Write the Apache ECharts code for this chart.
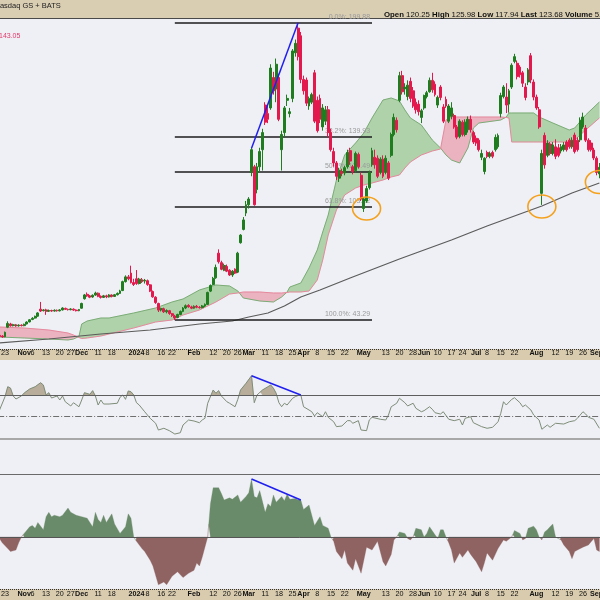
<!DOCTYPE html>
<html><head><meta charset="utf-8"><title>Chart</title>
<script src="https://cdn.jsdelivr.net/npm/echarts/dist/echarts.min.js"></script>
<style>html,body{margin:0;padding:0;background:#eff0f5;overflow:hidden}#chart{width:600px;height:600px}</style>
</head><body><div id="chart"></div>
<script>
// ---------------- data ----------------
const holidays = ['2023-11-23','2023-12-25','2024-01-01','2024-01-15','2024-02-19','2024-03-29','2024-05-27','2024-06-19','2024-07-04','2024-09-02'];
const firstDay = '2023-10-19';
const dayCount = 220;

const opens = [
35.2,34.8,34.5,39.5,41.2,40.3,40.8,40.2,40.6,40.3,
41.2,42.3,43.6,44.3,45.3,49.0,48.2,48.6,47.9,48.3,
48.0,48.4,48.1,48.6,49.4,48.9,48.7,49.0,48.5,48.2,
49.5,54.5,56.8,56.0,55.4,56.4,57.4,55.8,55.2,56.0,
55.5,56.4,55.7,56.6,57.3,58.8,63.5,66.0,68.0,63.0,
65.0,62.5,64.5,63.8,64.0,61.8,58.3,55.3,52.0,48.6,
49.2,47.6,48.2,46.6,45.4,44.6,46.2,47.8,49.6,51.0,
50.2,49.5,50.5,50.0,49.8,50.6,51.5,58.5,62.0,65.5,
78.5,73.5,69.5,71.5,69.5,67.0,70.0,68.5,84.0,91.0,
99.6,104.0,121.0,124.0,112.0,124.0,133.0,156.5,152.0,155.0,
171,165,171,133,142,159,152,160,184,197,
193,170,169.7,156,158,173.5,159,160,145,148,
154,142,132,126,118,121.5,120.7,124,132.5,124,
122,130.5,119.5,102,106,113,125,129,128.5,121,
128,121,126,130,141,148.5,159,172,165,161,
169,164,158,157,150,155,161,163.5,169.5,167.5,
156.5,166,155.5,159.5,148,150.5,151,145,140,147.5,
141,143.5,149,142,139,138,129,121.5,131.5,129.5,
131.5,133,134.5,152,161,160.7,157,166,179.5,178.5,
176.5,173.5,166,168.7,182.5,168.6,160.7,154,110,140.5,
130,136,131,134.5,134,132.3,133,137,138,134.5,
140.7,138,138.2,145,144.4,138,136.5,132.8,128.5,120.25];
const closes = [
34.6,34.4,36.8,41.5,40.2,40.8,40.1,40.6,40.3,41.0,
42.2,43.4,44.2,45.2,47.0,48.0,48.6,47.9,48.3,48.0,
48.4,48.1,48.6,49.6,48.9,48.7,49.1,48.5,48.2,48.8,
52.0,56.5,56.0,55.3,56.3,57.5,55.8,55.2,56.0,55.5,
56.4,55.7,56.6,57.3,58.6,63.5,66.0,65.0,63.0,62.0,
62.5,64.8,63.5,64.2,62.0,58.5,55.5,52.5,48.5,49.3,
47.6,48.3,46.7,45.6,44.4,46.2,47.8,49.6,50.8,50.2,
49.5,50.5,50.0,49.8,50.7,51.5,57.8,61.5,65.2,71.0,
74.0,70.0,72.0,69.0,67.0,69.0,68.0,78.5,88.0,96.0,
104.0,107.0,133.0,104.0,124.0,132.0,142.0,147.5,149.0,176.0,
164,178,149,141,155,160,153,185,189,182,
170,164,157.5,160,162,148,143,149,155,154,
142,133,126,119,122,120.5,123.5,131.5,127,121.5,
131,124,107,107,112.5,121,132.5,125,119,128,
119,128.5,118,141,150,143.5,172,163.5,166,167,
160,156,154,153,153.5,161.5,163,169.5,164.5,162,
160.5,160.5,148,156,156,155,145,139.6,148,141,
147.5,149,143.5,137,136.5,133,131,128.5,129.5,131,
129.5,139.5,140.5,161.5,166,156.5,164,177.5,182,171.5,
172.5,168,160.5,175,169.7,160.7,155,145,131,125,
136.5,131,135.5,129.5,130,134.6,135.5,133,134.5,138,
132,133,148.5,150.2,138,133,133,128.6,121,123.68];
const lows = [
34.2,33.9,34.2,39.0,39.8,39.9,39.7,39.8,39.9,40.0,
41.0,42.0,43.2,44.0,45.0,47.5,47.8,46.0,47.5,47.6,
47.7,47.7,47.8,48.3,48.6,48.3,48.4,48.1,47.8,47.9,
49.3,54.0,55.5,54.8,55.0,56.0,55.3,54.6,54.9,54.8,
55.1,55.2,55.4,56.2,57.0,58.5,63.0,64.2,62.5,61.2,
61.8,62.0,62.8,62.5,61.3,58.0,55.0,51.8,47.5,47.8,
47.0,46.8,46.0,44.9,43.29,44.2,45.8,47.4,49.0,49.8,
49.0,49.2,49.5,49.3,49.4,50.1,51.2,58.0,61.5,65.0,
73.0,69.5,69.0,68.5,66.5,66.0,67.5,68.0,83.5,90.5,
98.0,102.0,119.0,103.5,110.0,121.0,122.0,146.0,147.0,154.0,
162,158,148,122,140,156,150,158,182,180,
168,162,156,154,157,147,142,147,143,146,
140,132,124,117,116,119,119.5,123,125,120,
121,123,106,100.2,105,112,124,123,118,120,
118,120,117,129,140,142,158,162,162,159,
158,155,152,151,147,154,160,163,163,161,
155,159,147,155,147,149,144,138.5,139,140,
140,142,142,136,135,132,127.5,120,128.5,128.5,
128.5,132,133.5,150,160,152.3,152.5,165,178.5,170,
171,166,159,167,168,159,154,144,103.9,123,
129,130,130,128,129,131,132,132,133.5,133.5,
131,132,137,144,137,132,132,127.5,119.5,117.94];
const highs = [
35.8,35.3,37.2,42.6,41.8,41.3,41.2,41.0,41.0,41.4,
42.6,43.7,44.8,45.6,47.4,52.8,49.0,49.2,48.8,48.7,
48.9,48.8,49.0,50.0,49.8,49.3,49.5,49.4,48.9,49.1,
52.4,57.0,57.8,56.5,56.8,58.2,57.8,56.2,56.5,56.6,
56.9,56.8,57.0,57.8,59.2,64.0,66.8,67.0,71.9,65.0,
69.6,65.5,65.4,64.9,64.6,62.2,58.8,55.8,52.4,49.8,
49.8,48.9,48.6,47.0,46.0,46.6,48.3,50.1,51.5,51.6,
50.8,51.0,51.2,50.6,51.2,52.0,58.2,62.0,66.0,72.5,
80.5,74.5,73.0,72.5,70.0,69.6,70.5,79.2,88.5,97.5,
106.0,108.0,134.0,125.0,126.0,134.0,144.0,158.0,156.0,178.0,
174,181,173,143,156,162,155,186,191,199.88,
195,172,171,161,163,175,161,162,157,156,
156,144,134,127,123.5,123,124.5,133,134,125,
132,131.5,121,108,114,122,134,133,130,129,
130,130,127,142,152,150,174,174.5,168,169.5,
171,166,160,159,154.5,162,164,171,173.5,169,
161.5,167,157,161,157,158,152,146,149,148.5,
149,150.5,151,143,140.5,139,133,129,132.5,132,
132.5,141,141.5,163,167,168,165,178.5,183.5,180,
177.5,174.5,168,176,183.9,170,162,155.5,133,142,
138,137,137,138.5,136,136,137,138,139,139.5,
142,139.5,150,152.5,146,139,138,134,129.5,125.98];

// Ichimoku cloud (Senkou span A / B) read at these day indices
const cloudIdx = [0,9,18,25,27,29,30,32,37,40,49,57,63,67,73,79,84,87,89,95,100,103,105,106,110,113,116,118,120,123,126,130,133,136,140,143,146,148,150,154,158,161,163,165,168,171,173,175,183,185,186,187,195,197,202,208,210,214,219];
const spanA = [34.34,33.81,33.28,32.76,33.28,34.60,41.18,42.76,44.34,44.34,46.98,49.61,52.77,54.35,59.09,61.72,61.20,58.56,54.88,53.30,52.77,55.40,58.04,60.67,62.78,70.68,80.16,89.64,98.59,117.03,130.20,136.52,141.79,149.69,159.16,160.22,158.64,153.90,149.69,146.00,138.10,133.88,130.20,127.56,125.98,133.88,144.42,147.05,148.63,150.21,152.32,152.32,152.32,150.21,147.05,143.36,144.42,151.27,158.11];
const spanB = [39.60,39.08,38.02,36.44,35.39,34.07,33.55,33.81,34.86,35.92,39.08,42.24,43.29,45.92,48.56,52.77,56.98,57.51,58.04,58.04,57.51,57.51,57.77,58.04,58.04,58.56,64.36,74.89,88.06,101.23,109.13,112.81,114.39,115.45,117.03,118.61,119.66,123.35,126.51,130.20,132.30,133.35,148.63,150.21,150.21,150.21,150.21,150.21,150.21,149.95,149.69,137.04,137.04,137.04,137.04,137.04,138.10,143.36,149.69];

// 200-day moving average [dayIndex, value]
const ma200Points = [[0,31.18],[18,33.28],[37,35.92],[55,38.02],[64,39.60],[73,41.18],[85,42.76],[91,44.87],[98,46.98],[104,50.66],[110,55.40],[117,59.09],[128,65.41],[146,75.42],[165,85.42],[178,92.8],[190,99.12],[198,103.33],[209,110.18],[219,115.45]];

// RSI(14) [dayIndex, value]
const rsiPoints = [[0,56.2],[2,68.4],[3,77.6],[4,76.4],[5,69.1],[6,66.3],[8,69.1],[9,71.8],[11,75.5],[13,77.6],[15,81.3],[16,79.2],[17,70.0],[18,72.1],[19,67.2],[21,69.1],[22,65.4],[23,69.1],[24,63.8],[26,59.9],[27,62.9],[29,59.2],[30,65.4],[31,72.1],[33,70.6],[34,74.0],[35,69.1],[36,60.8],[37,65.4],[38,61.7],[40,61.7],[43,62.4],[44,67.9],[45,70.0],[46,66.0],[47,73.7],[48,73.0],[49,70.0],[50,62.9],[51,60.8],[53,54.6],[55,48.6],[57,44.0],[58,37.8],[60,39.4],[62,37.2],[64,34.1],[66,35.3],[67,42.4],[69,47.0],[71,46.1],[73,44.5],[74,47.0],[75,48.6],[76,62.4],[78,74.6],[79,71.6],[80,74.0],[81,69.1],[83,63.8],[84,62.4],[86,59.2],[87,66.0],[88,74.6],[90,80.8],[92,87.7],[93,62.9],[94,70.0],[96,74.6],[98,77.6],[99,79.2],[100,76.2],[101,71.6],[102,62.9],[103,59.2],[104,62.4],[105,60.8],[107,67.0],[108,68.5],[109,69.5],[110,70.0],[111,59.2],[113,56.2],[114,54.6],[115,50.7],[116,53.7],[118,50.0],[119,54.6],[120,49.5],[122,45.4],[123,40.9],[125,41.5],[127,46.4],[128,46.4],[129,44.0],[131,46.4],[132,37.8],[134,37.2],[135,47.0],[136,49.5],[139,47.7],[141,47.0],[142,51.6],[143,59.2],[145,62.4],[146,67.0],[148,62.9],[149,59.9],[151,62.4],[152,57.8],[154,54.6],[155,55.6],[157,59.2],[158,56.9],[159,53.7],[161,52.5],[162,54.6],[164,47.7],[166,46.4],[168,47.7],[169,42.4],[170,48.6],[172,50.0],[173,44.5],[176,40.9],[178,39.4],[180,40.3],[182,45.4],[183,53.2],[184,63.8],[185,60.8],[187,66.0],[188,67.5],[190,62.9],[191,59.2],[192,60.8],[194,56.2],[195,51.6],[197,47.0],[198,38.5],[200,42.4],[201,40.3],[203,44.0],[206,43.3],[208,45.4],[210,46.4],[211,48.6],[213,54.6],[214,52.5],[215,49.5],[217,47.7],[219,39.4]];

// Chaikin Money Flow (20) [dayIndex, value]
const cmfPoints = [[0,-0.01],[1,-0.04],[3,-0.08],[4,-0.10],[6,-0.09],[7,-0.04],[8,0.0],[9,0.025],[11,0.07],[12,0.08],[13,0.06],[14,0.10],[16,0.05],[17,0.14],[18,0.17],[19,0.14],[20,0.15],[22,0.14],[23,0.15],[25,0.20],[26,0.17],[28,0.15],[30,0.14],[32,0.13],[34,0.07],[35,0.17],[36,0.12],[37,0.10],[38,0.15],[39,0.10],[41,0.16],[42,0.09],[44,0.025],[46,0.07],[47,0.16],[48,0.13],[49,0.0],[50,-0.03],[52,-0.08],[53,-0.10],[55,-0.16],[56,-0.20],[58,-0.33],[60,-0.31],[61,-0.33],[63,-0.27],[65,-0.24],[67,-0.28],[69,-0.25],[71,-0.23],[72,-0.18],[73,-0.20],[74,-0.14],[76,0.0],[77,0.23],[78,0.34],[80,0.34],[81,0.30],[82,0.255],[84,0.27],[85,0.26],[87,0.29],[88,0.24],[90,0.28],[91,0.305],[92,0.40],[93,0.28],[94,0.27],[95,0.32],[97,0.17],[98,0.23],[99,0.21],[100,0.29],[101,0.24],[103,0.28],[104,0.25],[105,0.295],[106,0.26],[108,0.265],[109,0.255],[110,0.255],[111,0.19],[113,0.22],[114,0.15],[115,0.08],[117,0.14],[118,0.08],[120,0.06],[121,0.0],[122,-0.03],[123,-0.10],[125,-0.15],[126,-0.09],[127,-0.18],[129,-0.23],[130,-0.15],[132,-0.25],[133,-0.16],[134,-0.07],[136,-0.09],[138,-0.03],[140,-0.17],[141,-0.20],[143,-0.12],[144,-0.02],[145,0.0],[146,0.035],[148,0.025],[149,-0.01],[150,-0.02],[151,0.0],[152,0.06],[154,0.05],[155,0.0],[156,0.025],[157,0.07],[159,0.015],[160,-0.01],[161,0.05],[162,0.05],[163,0.0],[164,-0.04],[165,-0.09],[166,-0.18],[168,-0.11],[169,-0.14],[171,-0.09],[172,-0.12],[174,-0.17],[176,-0.24],[177,-0.18],[178,-0.11],[180,-0.16],[182,-0.08],[184,-0.02],[185,-0.03],[187,0.0],[188,0.045],[190,0.025],[191,-0.02],[192,-0.01],[193,0.06],[195,0.075],[196,0.05],[197,0.0],[198,-0.02],[199,0.035],[200,0.05],[201,0.07],[202,0.09],[203,0.0],[205,-0.02],[206,-0.055],[208,-0.10],[209,-0.15],[210,-0.10],[211,-0.09],[213,-0.07],[215,-0.055],[217,-0.01],[218,-0.09],[219,-0.10]];

// Fibonacci retracement
const fibLevels = [199.88, 139.93, 121.49, 103.12, 43.29];
const fibLabels = ['0.0%: 199.88','38.2%: 139.93','50.0%: 121.49','61.8%: 103.12','100.0%: 43.29'];
const fibStartIdx = 64, fibEndIdx = 136;

// annotations
const priceTrend = [[92,133.7],[109,199.88]];
const rsiTrend = [[92,87.7],[110,70.0]];
const cmfTrend = [[92,0.40],[110,0.255]];
const circlePoints = [[134,102.0],[198,103.1],[219,116.0]];

// axis tick labels
const tickDates = ['2023-10-23','2023-11-01','2023-11-06','2023-11-13','2023-11-20','2023-11-27','2023-12-01','2023-12-11','2023-12-18','2024-01-02','2024-01-08','2024-01-16','2024-01-22','2024-02-01','2024-02-12','2024-02-20','2024-02-26','2024-03-01','2024-03-11','2024-03-18','2024-03-25','2024-04-01','2024-04-08','2024-04-15','2024-04-22','2024-05-01','2024-05-13','2024-05-20','2024-05-28','2024-06-03','2024-06-10','2024-06-17','2024-06-24','2024-07-01','2024-07-08','2024-07-15','2024-07-22','2024-08-01','2024-08-12','2024-08-19','2024-08-26','2024-09-03'];
const tickTexts = ['23','Nov','6','13','20','27','Dec','11','18','2024','8','16','22','Feb','12','20','26','Mar','11','18','25','Apr','8','15','22','May','13','20','28','Jun','10','17','24','Jul','8','15','22','Aug','12','19','26','Sep'];

// ---------------- build ----------------
function tradingDays(startISO, n) {
  const out = []; const d = new Date(startISO + 'T00:00:00Z');
  while (out.length < n) {
    const dow = d.getUTCDay(); const iso = d.toISOString().slice(0, 10);
    if (dow !== 0 && dow !== 6 && holidays.indexOf(iso) < 0) out.push(iso);
    d.setUTCDate(d.getUTCDate() + 1);
  }
  return out;
}
const dates = tradingDays(firstDay, dayCount);
const candleData = opens.map((o, i) => [o, closes[i], lows[i], highs[i]]);
const tickMap = new Map(tickDates.map((d, i) => [d, tickTexts[i]]));
const FONT = 'Liberation Sans';
const UP = '#1f7d1f', DOWN = '#e3194d';

// fills the area between an upper series and a lower series (or constant),
// one polygon per run of equal sign, so there are no seams
function bandRenderer(xs, up, lo, posColor, negColor) {
  const L = j => (typeof lo === 'number' ? lo : lo[j]);
  const sgn = d => (d > 0 ? 1 : (d < 0 ? -1 : 0));
  return function (params, api) {
    if (params.dataIndex !== 0) return null;
    const runs = [];
    let cur = null;
    let prevA = null, prevD = 0;
    for (let j = 0; j < xs.length; j++) {
      const a = api.coord([xs[j], up[j]]), b = api.coord([xs[j], L(j)]);
      const d = up[j] - L(j);
      if (cur && prevD * d < 0) {
        const t = prevD / (prevD - d);
        const c = [prevA[0] + t * (a[0] - prevA[0]), prevA[1] + t * (a[1] - prevA[1])];
        cur.top.push(c); cur.bot.push(c); runs.push(cur);
        cur = { sign: sgn(d), top: [c], bot: [c] };
      }
      if (!cur) cur = { sign: sgn(d), top: [], bot: [] };
      if (cur.sign === 0) cur.sign = sgn(d);
      cur.top.push(a); cur.bot.push(b);
      prevA = a; if (d !== 0) prevD = d;
    }
    if (cur) runs.push(cur);
    const children = [];
    runs.forEach(r => {
      const c = r.sign >= 0 ? posColor : negColor;
      if (!c || r.top.length < 2) return;
      const pts = r.top.concat(r.bot.slice().reverse());
      children.push({ type: 'polygon', shape: { points: pts }, style: { fill: c, stroke: c, lineWidth: 0.3 } });
    });
    return { type: 'group', children };
  };
}

function xAxisFor(gi, showLabels) {
  return {
    type: 'category', gridIndex: gi, data: dates, boundaryGap: true,
    axisLine: { show: false }, axisTick: { show: false }, splitLine: { show: false },
    axisLabel: showLabels ? {
      show: true, margin: 2, hideOverlap: false,
      interval: (i, v) => tickMap.has(v),
      formatter: v => { const t = tickMap.get(v) || ''; return /^\d{1,2}$/.test(t) ? '{n|' + t + '}' : '{b|' + t + '}'; },
      rich: {
        b: { fontFamily: FONT, fontSize: 7.2, fontWeight: 'bold', color: '#111' },
        n: { fontFamily: FONT, fontSize: 7.2, color: '#111' }
      }
    } : { show: false }
  };
}
const X0 = -1.85, W = 602.6;
const gridBase = { left: X0, width: W, show: false, containLabel: false, outerBoundsMode: 'none' };

const lineSeries = (gi, data, color, width, z, extra) => Object.assign({
  type: 'line', xAxisIndex: gi, yAxisIndex: gi, data, showSymbol: false, symbol: 'none',
  lineStyle: { color, width }, itemStyle: { color }, z, silent: true, animation: false
}, extra || {});

const option = {
  animation: false,
  backgroundColor: '#eff0f5',
  textStyle: { fontFamily: FONT },
  grid: [
    Object.assign({ top: 19, height: 329 }, gridBase),
    Object.assign({ top: 360, height: 114 }, gridBase),
    Object.assign({ top: 474, height: 115 }, gridBase)
  ],
  xAxis: [xAxisFor(0, true), xAxisFor(1, false), xAxisFor(2, true)],
  yAxis: [
    { type: 'value', gridIndex: 0, min: 28.54, max: 201.83, show: false },
    { type: 'value', gridIndex: 1, min: -2.64, max: 102.18, show: false },
    { type: 'value', gridIndex: 2, min: -0.3586, max: 0.4345, show: false }
  ],
  graphic: [
    { type: 'rect', shape: { x: 0, y: 0, width: 600, height: 18 }, style: { fill: '#d9cdb2' }, z: -5 },
    { type: 'line', shape: { x1: 0, y1: 18.5, x2: 600, y2: 18.5 }, style: { stroke: '#4a4a4a', lineWidth: 1 }, z: -4 },
    { type: 'rect', shape: { x: 0, y: 349, width: 600, height: 11 }, style: { fill: '#d8cbae' }, z: -5 },
    { type: 'line', shape: { x1: 0, y1: 349.5, x2: 600, y2: 349.5 }, style: { stroke: '#333', lineWidth: 1, lineDash: [1, 1] }, z: -4 },
    { type: 'rect', shape: { x: 0, y: 589, width: 600, height: 11 }, style: { fill: '#d8cbae' }, z: -5 },
    { type: 'line', shape: { x1: 0, y1: 589.5, x2: 600, y2: 589.5 }, style: { stroke: '#333', lineWidth: 1, lineDash: [1, 1] }, z: -4 },
    { type: 'line', shape: { x1: 0, y1: 474.5, x2: 600, y2: 474.5 }, style: { stroke: '#6a6a6a', lineWidth: 1 }, z: 1 },
    { type: 'text', x: -5.5, y: 2, style: { text: 'Nasdaq GS + BATS', fontFamily: FONT, fontSize: 7.5, fill: '#222' }, z: 10 },
    { type: 'text', x: 384, y: 10.5, style: { text: '{b|Open} 120.25 {b|High} 125.98 {b|Low} 117.94 {b|Last} 123.68 {b|Volume} 5.2M', fontFamily: FONT, fontSize: 7.8, fill: '#111', rich: { b: { fontWeight: 'bold', fontFamily: FONT, fontSize: 7.8, fill: '#111' } } }, z: 10 },
    { type: 'text', x: -1, y: 33, style: { text: '143.05', fontFamily: FONT, fontSize: 7, fill: '#e3386b' }, z: 10 }
  ],
  series: [
    { type: 'custom', xAxisIndex: 0, yAxisIndex: 0, clip: true, z: 1, silent: true,
      data: cloudIdx.map((k, j) => [k, spanA[j], spanB[j]]), encode: { x: 0, y: [1, 2] },
      renderItem: bandRenderer(cloudIdx, spanA, spanB, '#afd2aa', '#ebb3c0') },
    lineSeries(0, cloudIdx.map((k, j) => [k, spanA[j]]), '#7bab76', 1, 2),
    lineSeries(0, cloudIdx.map((k, j) => [k, spanB[j]]), '#e5899d', 1, 2),
    lineSeries(0, ma200Points, '#5b5b5b', 1.2, 3),
    { type: 'candlestick', xAxisIndex: 0, yAxisIndex: 0, data: candleData, barWidth: 2.4, z: 5, silent: true,
      itemStyle: { color: UP, color0: DOWN, borderColor: UP, borderColor0: DOWN, borderWidth: 1 },
      markLine: { symbol: ['none', 'none'], silent: true, animation: false,
        data: fibLevels.map((v, i) => [
          { coord: [dates[fibStartIdx], v], lineStyle: { color: '#1d1d1d', width: 1.6, type: 'solid' },
            label: { show: true, position: 'insideEndTop', formatter: fibLabels[i], color: '#9a9a9a', fontSize: 7, fontFamily: FONT, distance: 2 } },
          { coord: [dates[fibEndIdx], v] }
        ]) } },
    lineSeries(0, priceTrend, '#1f1fef', 1.5, 6),
    { type: 'custom', xAxisIndex: 0, yAxisIndex: 0, clip: true, z: 7, silent: true, data: circlePoints, encode: { x: 0, y: 1 },
      renderItem: (params, api) => {
        const p = api.coord([api.value(0), api.value(1)]);
        return { type: 'ellipse', shape: { cx: p[0], cy: p[1], rx: 14, ry: 11.5 }, style: { fill: 'none', stroke: '#f4a11d', lineWidth: 1.6 } };
      } },
    // RSI
    { type: 'custom', xAxisIndex: 1, yAxisIndex: 1, clip: true, z: 1, silent: true,
      data: rsiPoints, encode: { x: 0, y: 1 },
      renderItem: bandRenderer(rsiPoints.map(p => p[0]), rsiPoints.map(p => p[1]), 70, '#b7ad9a', null) },
    lineSeries(1, rsiPoints, '#7e8c78', 1, 3, {
      markLine: { symbol: ['none', 'none'], silent: true, animation: false, label: { show: false },
        data: [
          { yAxis: 70, lineStyle: { color: '#5e5e5e', width: 1, type: 'solid' } },
          { yAxis: 50, lineStyle: { color: '#6e6e6e', width: 1, type: [6, 2, 1, 2] } },
          { yAxis: 30, lineStyle: { color: '#a8a8a8', width: 2, type: 'solid' } }
        ] } }),
    lineSeries(1, rsiTrend, '#1f1fef', 1.5, 6),
    // CMF
    { type: 'custom', xAxisIndex: 2, yAxisIndex: 2, clip: true, z: 1, silent: true,
      data: cmfPoints, encode: { x: 0, y: 1 },
      renderItem: bandRenderer(cmfPoints.map(p => p[0]), cmfPoints.map(p => p[1]), 0, '#6a8b69', '#8f6362') },
    lineSeries(2, cmfTrend, '#1f1fef', 1.5, 6, {
      markLine: { symbol: ['none', 'none'], silent: true, animation: false, label: { show: false },
        data: [{ yAxis: 0, lineStyle: { color: '#555', width: 1, type: 'solid' } }] } })
  ]
};
const chart = echarts.init(document.getElementById('chart'), null, { renderer: 'canvas', width: 600, height: 600 });
chart.setOption(option);
</script></body></html>
